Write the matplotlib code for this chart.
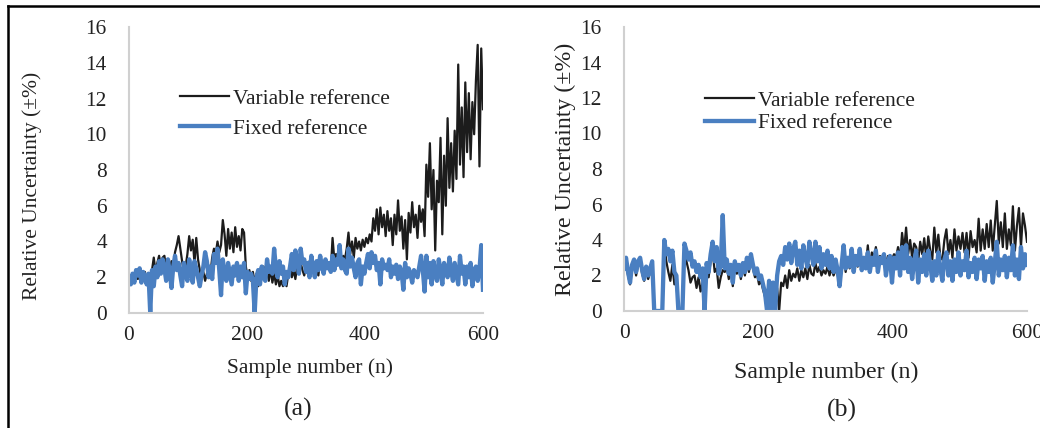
import matplotlib
matplotlib.use("Agg")
import matplotlib.pyplot as plt
from matplotlib.lines import Line2D

# ---- data (every 3rd sample) ----
samples = list(range(0, 601, 3))

variable_a = [2.0, 1.7, 2.1, 1.8, 2.2, 1.9, 2.4, 2.1, 2.0, 2.3,
              1.8, 2.2, 1.9, 2.4, 3.1, 2.3, 2.8, 3.2, 2.6, 3.1,
              3.2, 2.5, 3.0, 2.4, 2.9, 2.6, 3.4, 3.8, 4.3, 3.6,
              2.9, 2.3, 2.6, 3.3, 4.3, 3.5, 4.1, 2.8, 4.2, 3.0,
              2.4, 1.9, 2.3, 1.8, 2.2, 2.6, 2.2, 3.1, 3.6, 3.3,
              4.0, 3.4, 3.8, 5.2, 4.4, 3.2, 4.7, 3.6, 4.5, 3.4,
              4.8, 3.7, 4.3, 3.5, 4.7, 4.5, 2.6, 2.0, 2.4, 1.8,
              2.3, 1.7, 2.2, 1.5, 2.3, 2.0, 2.6, 1.9, 2.4, 1.8,
              2.5, 1.7, 2.2, 1.6, 2.1, 1.5, 1.8, 1.5, 2.0, 1.5,
              2.2, 2.6, 2.0, 2.4, 1.9, 2.6, 2.2, 2.8, 2.4, 2.1,
              2.6, 2.2, 2.9, 3.0, 2.4, 2.8, 2.3, 2.1, 3.0, 2.6,
              2.3, 2.9, 2.5, 2.7, 2.4, 4.2, 3.0, 3.3, 2.9, 3.4,
              2.7, 3.2, 3.0, 3.6, 4.5, 3.3, 4.0, 3.1, 4.2, 3.6,
              4.0, 3.5, 4.1, 3.7, 4.2, 3.9, 4.4, 4.0, 5.3, 4.6,
              5.8, 4.4, 5.9, 4.8, 5.5, 4.3, 5.7, 4.6, 5.3, 3.8,
              5.5, 4.4, 6.3, 4.6, 5.4, 3.6, 5.2, 3.0, 5.6, 4.5,
              6.2, 4.8, 5.5, 4.2, 6.0, 5.1, 5.8, 4.3, 8.3, 6.5,
              9.5, 5.8, 8.0, 3.5, 7.4, 6.2, 9.8, 4.4, 8.8, 6.0,
              10.9, 7.0, 9.5, 6.8, 10.2, 7.5, 13.9, 8.3, 11.5, 7.6,
              12.9, 9.0, 12.3, 8.6, 11.8, 10.0, 13.0, 15.0, 8.2, 14.8,
              11.4]

fixed_a = [1.9, 1.6, 2.2, 1.7, 2.4, 2.1, 2.5, 1.7, 2.3, 2.0,
           1.6, 2.2, 0.0, 2.4, 1.5, 2.6, 2.0, 2.9, 2.2, 3.0,
           2.5, 1.8, 3.0, 2.3, 1.4, 2.6, 3.2, 2.4, 2.8, 2.1,
           1.5, 2.8, 2.2, 1.8, 3.0, 2.4, 1.7, 2.9, 2.5, 2.0,
           1.5, 2.1, 2.6, 3.4, 2.9, 2.0, 2.6, 1.9, 3.3, 2.8,
           3.6, 2.4, 1.0, 3.0, 2.2, 1.8, 2.8, 2.2, 1.6, 2.6,
           2.1, 2.8, 1.8, 2.6, 2.0, 2.8, 1.1, 2.3, 1.9, 2.2,
           1.8, 0.0, 2.0, 2.4, 1.6, 2.6, 2.0, 1.8, 3.0, 2.3,
           2.6, 2.2, 3.6, 2.5, 2.0, 2.9, 2.2, 2.6, 1.6, 2.3,
           2.0, 2.6, 3.3, 2.4, 3.5, 2.9, 2.2, 3.6, 2.8, 3.0,
           2.3, 2.8, 2.0, 3.2, 2.5, 2.0, 2.9, 2.4, 3.2, 2.6,
           2.2, 3.0, 2.5, 2.8, 2.3, 3.2, 2.4, 3.0, 2.7, 3.8,
           2.5, 3.0, 2.4, 2.2, 3.6, 2.6, 3.1, 2.5, 2.0, 2.8,
           3.0, 1.6, 2.6, 2.2, 2.8, 3.3, 2.5, 3.4, 2.8, 3.2,
           2.4, 2.8, 1.6, 3.0, 2.5, 2.7, 2.4, 3.0, 2.0, 2.6,
           2.2, 2.7, 1.9, 2.6, 2.3, 1.3, 2.8, 2.0, 2.5, 2.2,
           1.7, 2.4, 2.2, 2.0, 2.6, 3.2, 2.4, 1.2, 3.2, 2.0,
           2.8, 1.6, 2.9, 2.2, 1.8, 3.0, 2.4, 1.6, 2.8, 2.2,
           2.0, 3.1, 2.4, 1.8, 2.8, 2.2, 1.6, 3.2, 2.2, 2.6,
           1.6, 2.6, 2.0, 2.8, 1.5, 2.4, 2.6, 1.8, 2.4, 3.8,
           1.3]

variable_b = [2.3, 2.8, 2.0, 1.5, 2.5, 2.7, 2.0, 2.6, 2.8, 2.1,
              1.7, 2.3, 1.8, 2.2, 2.6, 0.0, 0.0, 0.0, 0.0, 0.0,
              3.8, 2.8, 2.2, 1.7, 2.6, 1.5, 1.6, 0.0, 0.0, 0.0,
              3.5, 2.8, 2.3, 1.6, 1.9, 2.0, 1.3, 1.9, 1.1, 1.6,
              0.0, 2.3, 1.9, 2.8, 3.4, 2.2, 2.4, 1.3, 1.9, 2.3,
              2.2, 2.5, 1.8, 2.3, 1.4, 2.5, 2.1, 2.4, 1.8, 2.5,
              2.0, 2.7, 2.2, 2.9, 2.4, 1.9, 2.1, 1.5, 1.7, 1.2,
              0.8, 0.0, 1.4, 0.0, 1.0, 0.0, 1.3, 0.0, 1.6, 1.4,
              2.0, 1.3, 2.3, 1.7, 2.1, 1.9, 2.4, 1.7, 2.3, 1.9,
              2.4, 1.8, 2.6, 2.1, 2.0, 2.7, 2.2, 2.5, 2.0, 2.3,
              2.1, 2.5, 2.0, 2.4, 2.0, 2.3, 2.1, 1.4, 2.4, 3.1,
              2.2, 2.9, 2.4, 3.3, 2.2, 3.0, 2.5, 3.4, 2.3, 3.0,
              2.6, 3.7, 2.4, 3.3, 3.0, 3.6, 2.8, 3.1, 3.0, 3.2,
              2.7, 3.1, 3.0, 2.9, 3.2, 3.0, 3.6, 2.9, 4.4, 3.4,
              4.7, 3.2, 4.0, 3.0, 3.8, 3.6, 2.8, 3.9, 3.2, 4.1,
              3.0, 4.2, 3.4, 2.9, 4.7, 3.3, 4.3, 3.0, 2.9, 4.0,
              4.6, 3.2, 4.0, 3.0, 4.6, 3.4, 4.2, 3.5, 4.4, 3.3,
              4.4, 3.0, 4.5, 3.6, 4.0, 3.3, 5.2, 3.4, 4.6, 3.5,
              4.9, 3.6, 5.1, 3.4, 4.8, 6.2, 3.8, 5.0, 3.6, 5.5,
              3.5, 4.6, 3.7, 5.9, 3.4, 4.8, 5.8, 3.6, 5.5, 4.8,
              3.9]

fixed_b = [2.4, 3.0, 2.2, 1.6, 2.6, 2.9, 2.2, 2.8, 3.0, 2.3,
           1.8, 2.5, 2.0, 2.4, 2.8, 0.0, 0.0, 0.0, 0.0, 0.0,
           4.0, 3.2, 3.5, 2.8, 3.4, 2.2, 2.0, 0.0, 0.0, 0.0,
           3.8, 3.4, 2.9, 3.3, 2.5, 2.8, 2.2, 2.6, 1.9, 2.4,
           0.0, 2.7, 2.2, 3.2, 3.9, 2.8, 3.6, 2.1, 2.6, 5.4,
           2.4, 2.9, 2.1, 2.6, 1.6, 2.8, 2.3, 2.6, 2.0, 2.7,
           2.2, 3.0, 2.4, 3.2, 2.6, 2.1, 2.4, 1.8, 2.0, 1.5,
           1.0, 0.0, 1.7, 0.0, 1.6, 0.0, 2.0, 2.8, 3.1, 2.6,
           3.6, 2.9, 3.8, 2.7, 3.5, 3.9, 2.6, 3.4, 2.4, 3.7,
           3.0, 2.5, 3.9, 3.2, 2.6, 3.9, 2.8, 3.6, 2.4, 3.2,
           2.6, 3.4, 2.4, 3.1, 2.2, 2.9, 2.3, 1.4, 2.6, 3.7,
           2.4, 3.0, 2.5, 3.5, 2.2, 3.1, 2.6, 3.5, 2.3, 3.0,
           2.4, 3.3, 2.2, 3.0, 2.6, 3.4, 2.2, 3.0, 2.7, 3.2,
           2.0, 2.8, 3.1, 1.6, 3.0, 2.4, 3.3, 2.0, 3.6, 2.4,
           3.7, 2.2, 3.0, 1.8, 2.8, 3.4, 1.6, 2.9, 2.2, 3.2,
           2.0, 3.4, 2.6, 1.7, 2.8, 2.0, 3.3, 2.4, 1.7, 2.9,
           3.3, 2.0, 2.8, 1.7, 2.9, 2.2, 3.3, 2.0, 2.8, 2.3,
           3.4, 1.9, 2.7, 2.2, 3.0, 1.8, 2.9, 2.4, 3.1, 1.7,
           2.8, 2.2, 3.0, 1.6, 2.7, 3.9, 2.0, 2.9, 2.3, 3.1,
           1.9, 3.0, 2.3, 3.7, 2.0, 2.9, 1.8, 3.6, 2.4, 3.2,
           2.6]

x_ticks = [0, 200, 400, 600]
y_ticks = [0, 2, 4, 6, 8, 10, 12, 14, 16]
series_labels = ["Variable reference", "Fixed reference"]
x_label = "Sample number (n)"
y_label = "Relative Uncertainty (\u00b1%)"
captions = ["(a)", "(b)"]

# ---- style ----
plt.rcParams['font.family'] = ['Liberation Serif', 'DejaVu Serif']
BLACK = '#1c1c1c'
BLUE = '#4a7fc1'
SPINE = '#d0d0d0'
TXT = '#222222'

W, H = 1040, 428
fig = plt.figure(figsize=(W / 100, H / 100), dpi=100)

def fx(px):
    return px / W

def fy(py):
    return 1 - py / H

panels = [
    dict(x0=129, x1=483, y0=313, y1=27, var=variable_a, fix=fixed_a,
         lab=15.5, ylx=32, yly=186, xlx=310, xly=368, capx=298, capy=409,
         leg=(180, 89), legsp=0.45),
    dict(x0=624, x1=1027, y0=311, y1=27, var=variable_b, fix=fixed_b,
         lab=17.2, ylx=565, yly=169, xlx=826, xly=372, capx=842, capy=410,
         leg=(705, 91), legsp=0.1),
]

for p in panels:
    ax = fig.add_axes([fx(p['x0']), fy(p['y0']),
                       (p['x1'] - p['x0']) / W, (p['y0'] - p['y1']) / H])
    ax.plot(samples, p['var'], color=BLACK, lw=1.6, label=series_labels[0],
            solid_joinstyle='round')
    ax.plot(samples, p['fix'], color=BLUE, lw=3.1, label=series_labels[1],
            solid_joinstyle='round')
    ax.set_xlim(0, 600)
    ax.set_ylim(0, 16)
    ax.set_xticks(x_ticks)
    ax.set_yticks(y_ticks)
    ax.tick_params(length=0, labelsize=15.4, colors=TXT, pad=9)
    ax.tick_params(axis='y', pad=16)
    for s in ['top', 'right']:
        ax.spines[s].set_visible(False)
    for s in ['left', 'bottom']:
        ax.spines[s].set_color(SPINE)
        ax.spines[s].set_linewidth(1.5)
    ax.patch.set_alpha(0)
    fig.text(fx(p['ylx']), fy(p['yly']), y_label, rotation=90,
             ha='center', va='center', fontsize=p['lab'], color=TXT)
    fig.text(fx(p['xlx']), fy(p['xly']), x_label, ha='center', va='center',
             fontsize=p['lab'], color=TXT)
    leg = ax.legend(loc='upper left',
                    bbox_to_anchor=(fx(p['leg'][0]), fy(p['leg'][1])),
                    bbox_transform=fig.transFigure, frameon=False,
                    fontsize=15.4, handlelength=2.3, handletextpad=0.2,
                    labelspacing=p['legsp'], borderpad=0, borderaxespad=0)
    for t in leg.get_texts():
        t.set_color(TXT)

for p, c in zip(panels, captions):
    fig.text(fx(p['capx']), fy(p['capy']), c, ha='center', va='center',
             fontsize=18.5, color=TXT)

# outer frame (top and left edges visible in the reference)
fig.add_artist(Line2D([fx(8), 1.0], [fy(6), fy(6)], color='black', lw=1.8,
                      transform=fig.transFigure))
fig.add_artist(Line2D([fx(8), fx(8)], [fy(6), 0.0], color='black', lw=1.8,
                      transform=fig.transFigure))

fig.savefig('out.png', dpi=100)
